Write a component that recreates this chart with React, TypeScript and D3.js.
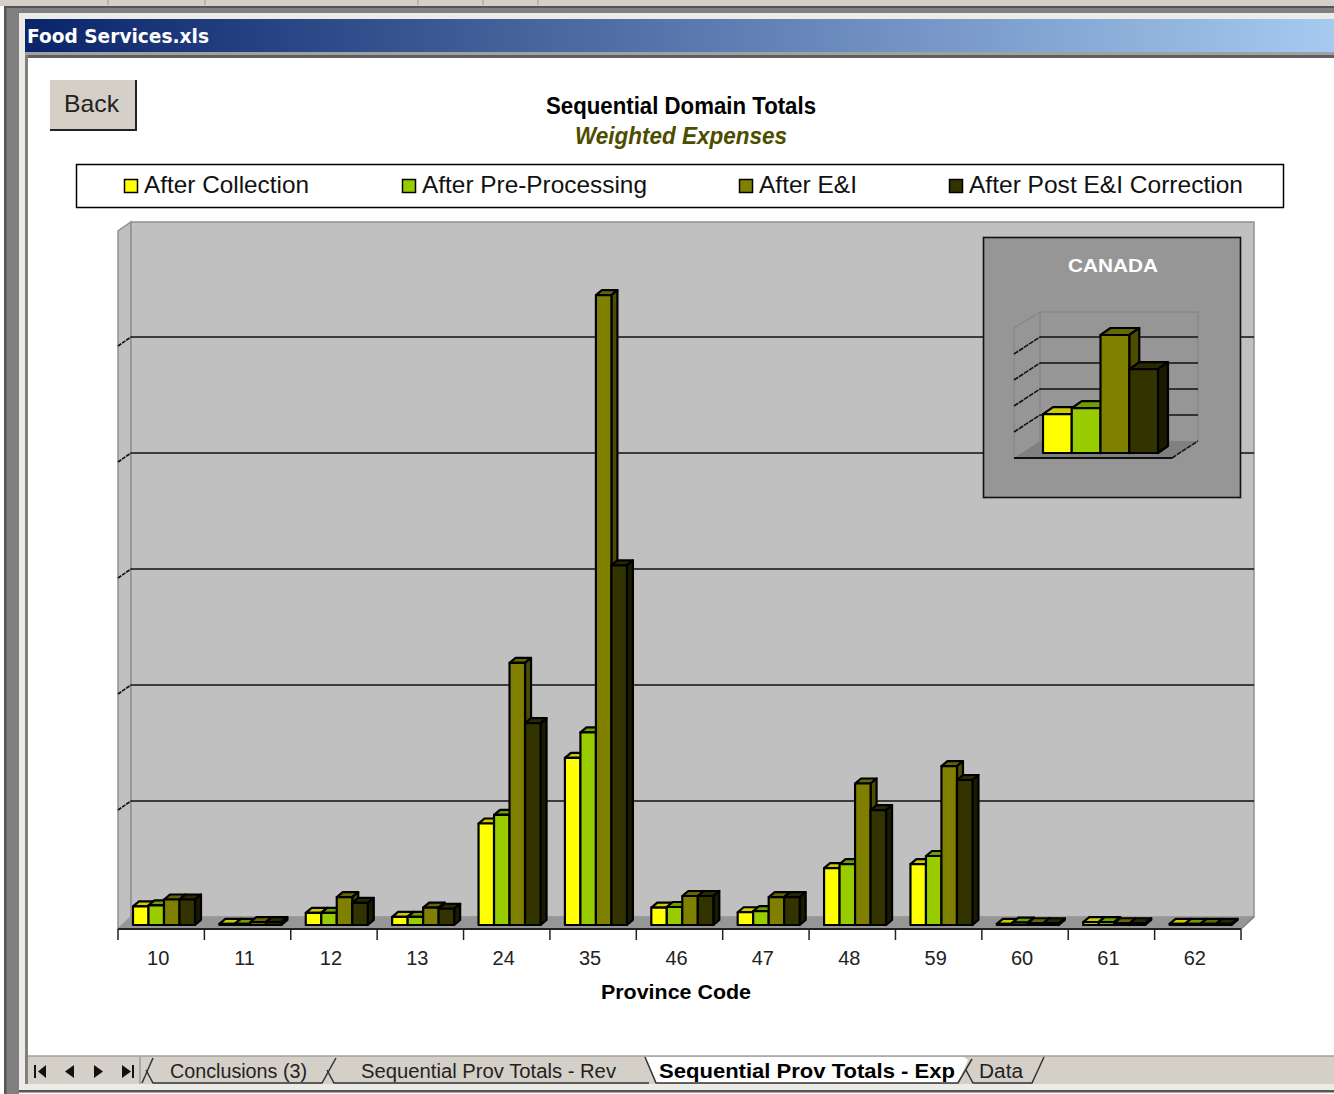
import React from 'react';
import * as d3 from 'd3';

const provinces = ['10','11','12','13','24','35','46','47','48','59','60','61','62'];
const seriesNames = ['After Collection','After Pre-Processing','After E&I','After Post E&I Correction'];
const frontColors = ['#FFFF00','#99CC00','#808000','#333300'];
const topColors = ['#CCCC00','#6E9E00','#666600','#292900'];
const sideColors = ['#808000','#4D6600','#4D4D00','#1A1A00'];
const afterCollection = [0.16,0.01,0.105,0.07,0.875,1.44,0.15,0.11,0.49,0.525,0.01,0.025,0.01];
const afterPreProcessing = [0.17,0.01,0.105,0.07,0.95,1.66,0.155,0.12,0.525,0.595,0.02,0.025,0.01];
const afterEI = [0.22,0.025,0.24,0.15,2.26,5.43,0.25,0.24,1.22,1.37,0.015,0.015,0.01];
const afterPostEI = [0.22,0.025,0.19,0.14,1.74,3.1,0.25,0.24,0.99,1.25,0.015,0.015,0.01];
const seriesValues = [afterCollection, afterPreProcessing, afterEI, afterPostEI];
const canadaValues = [0.66,0.76,2.0,1.42];
const gridTicks = [1,2,3,4,5];
const insetTicks = [1,2,3,4];
const tabs = ['Conclusions (3)','Sequential Prov Totals - Rev','Sequential Prov Totals - Exp','Data'];

const UI = '"Liberation Sans", Arial, sans-serif';
const TAHOMA = '"DejaVu Sans", Verdana, sans-serif';

function Bar3D({x,w,y,base,dx,dy,i,sw}:{x:number;w:number;y:number;base:number;dx:number;dy:number;i:number;sw:number}) {
  return <g stroke="#000" strokeWidth={sw} strokeLinejoin="round">
    <polygon fill={topColors[i]} points={`${x},${y} ${x+dx},${y+dy} ${x+w+dx},${y+dy} ${x+w},${y}`} />
    <polygon fill={sideColors[i]} points={`${x+w},${y} ${x+w+dx},${y+dy} ${x+w+dx},${base+dy} ${x+w},${base}`} />
    <rect fill={frontColors[i]} x={x} y={y} width={w} height={base-y} />
  </g>;
}

export default function App() {
  const xGroup = d3.scaleBand<string>().domain(provinces).range([118,1241]);
  const xSeries = d3.scaleBand<number>().domain([0,1,2,3]).range([15,77]);
  const yBar = d3.scaleLinear().domain([0,6]).range([925,229]);
  const yWall = d3.scaleLinear().domain([0,6]).range([917,221]);
  const wallL = 131, wallR = 1254, floorF = 929;

  const xIn = d3.scaleBand<number>().domain([0,1,2,3]).range([1043,1158]);
  const yIn = d3.scaleLinear().domain([0,2]).range([453,335]);
  const yInWall = d3.scaleLinear().domain([0,5]).range([441,311]);

  const legendX = [124,402,739,949];
  const legendLen = [165,225,98,274];
  const headerTicks = [108,205,418,483,538];

  return (
    <svg width={1334} height={1094} style={{position:'absolute',left:0,top:0,background:'#fff'}} fontFamily={UI}>
      <defs>
        <linearGradient id="tb" x1="0" x2="1" y1="0" y2="0">
          <stop offset="0" stopColor="#0A246A" />
          <stop offset="1" stopColor="#A6CAF0" />
        </linearGradient>
      </defs>
      {/* window chrome */}
      <rect x={0} y={0} width={1334} height={6} fill="#D4D0C8" />
      {headerTicks.map(x=><line key={x} x1={x} x2={x} y1={0} y2={5} stroke="#9a9a9a" />)}
      <rect x={4} y={6} width={1330} height={2.5} fill="#555" />
      <rect x={4} y={8} width={15} height={1086} fill="#808080" />
      <rect x={4} y={6} width={2.5} height={1088} fill="#555" />
      <rect x={19} y={8} width={1315} height={5} fill="#808080" />
      <rect x={19} y={13} width={1315} height={6} fill="#EDEBE6" />
      <rect x={19} y={13} width={6} height={1077} fill="#EDEBE6" />
      <rect x={25} y={19} width={1309} height={33} fill="url(#tb)" />
      <text x={27} y={43} fill="#fff" fontFamily={TAHOMA} fontWeight="bold" fontSize={20} textLength={182} lengthAdjust="spacingAndGlyphs">Food Services.xls</text>
      <rect x={25} y={52} width={1309} height={3} fill="#A0A0A0" />
      <rect x={25} y={55} width={1309} height={3} fill="#606060" />
      <rect x={25} y={55} width={3} height={1029} fill="#808080" />

      {/* back button */}
      <rect x={50} y={80} width={86} height={50} fill="#D4D0C8" />
      <path d="M136,80 V130 H50" fill="none" stroke="#222" strokeWidth={2} />
      <text x={64} y={112} fontSize={24} fill="#222" textLength={55} lengthAdjust="spacingAndGlyphs">Back</text>

      {/* titles */}
      <text x={681} y={114} textAnchor="middle" fontWeight="bold" fontSize={23} fill="#000" textLength={270} lengthAdjust="spacingAndGlyphs">Sequential Domain Totals</text>
      <text x={681} y={144} textAnchor="middle" fontWeight="bold" fontStyle="italic" fontSize={23} fill="#4D4D00" textLength={212} lengthAdjust="spacingAndGlyphs">Weighted Expenses</text>

      {/* legend */}
      <rect x={76.5} y={164.5} width={1207} height={43} fill="#fff" stroke="#000" strokeWidth={1.5} />
      {seriesNames.map((n,i)=>(
        <g key={n}>
          <rect x={legendX[i]+0.5} y={179.5} width={13} height={13} fill={frontColors[i]} stroke="#000" strokeWidth={1.5} />
          <text x={legendX[i]+20} y={193} fontSize={24} fill="#111" textLength={legendLen[i]} lengthAdjust="spacingAndGlyphs">{n}</text>
        </g>
      ))}

      {/* 3D walls and floor */}
      <polygon points={`118,${floorF} ${wallL},${yWall(0)} ${wallL},222 118,231`} fill="#C0C0C0" stroke="#909090" strokeWidth={1.5} />
      <rect x={wallL} y={222} width={wallR-wallL} height={yWall(0)-222} fill="#C0C0C0" stroke="#909090" strokeWidth={1.5} />
      <polygon points={`118,${floorF} ${wallL},${yWall(0)} ${wallR},${yWall(0)} 1241,${floorF}`} fill="#969696" />
      {gridTicks.map(t=>(
        <g key={t} stroke="#111" strokeWidth={1.7}>
          <line x1={wallL} x2={wallR} y1={yWall(t)} y2={yWall(t)} />
          <line x1={118} x2={wallL} y1={yWall(t)+9} y2={yWall(t)} strokeDasharray="4 1" />
        </g>
      ))}
      <line x1={1241} y1={floorF} x2={wallR} y2={yWall(0)} stroke="#808080" strokeWidth={1.5} />

      {/* main bars */}
      {provinces.map((p,g)=>(
        <g key={p}>
          {seriesValues.map((vals,s)=>(
            <Bar3D key={s} i={s} x={xGroup(p)!+xSeries(s)!} w={xSeries.bandwidth()} y={yBar(vals[g])} base={yBar(0)} dx={6} dy={-5} sw={2.2} />
          ))}
        </g>
      ))}

      {/* x axis */}
      <line x1={118} x2={1241} y1={floorF} y2={floorF} stroke="#222" strokeWidth={2} />
      {[...provinces.map(p=>xGroup(p)!),1241].map((x,i)=>(
        <line key={i} x1={x} x2={x} y1={floorF} y2={940} stroke="#222" strokeWidth={1.5} />
      ))}
      {provinces.map(p=>(
        <text key={p} x={xGroup(p)!+xGroup.bandwidth()/2-3} y={965} textAnchor="middle" fontSize={20} fill="#222">{p}</text>
      ))}
      <text x={676} y={999} textAnchor="middle" fontWeight="bold" fontSize={20} fill="#000" textLength={150} lengthAdjust="spacingAndGlyphs">Province Code</text>

      {/* inset */}
      <rect x={983.5} y={237.5} width={257} height={260} fill="#969696" stroke="#111" strokeWidth={1.6} />
      <text x={1113} y={272} textAnchor="middle" fontWeight="bold" fontSize={18} fill="#fff" textLength={90} lengthAdjust="spacingAndGlyphs">CANADA</text>
      <polygon points="1014,458 1040,441 1198,441 1172,458" fill="#808080" />
      <path d="M1014,458 V328 L1040,312 H1198 V441" fill="none" stroke="#808080" strokeWidth={1} />
      <line x1={1040} x2={1040} y1={312} y2={441} stroke="#808080" />
      {insetTicks.map(t=>(
        <g key={t} stroke="#111" strokeWidth={1.6}>
          <line x1={1040} x2={1198} y1={yInWall(t)} y2={yInWall(t)} />
          <line x1={1014} x2={1040} y1={yInWall(t)+17} y2={yInWall(t)} strokeDasharray="5 1" />
        </g>
      ))}
      <line x1={1014} x2={1172} y1={458} y2={458} stroke="#111" strokeWidth={2} />
      <line x1={1172} x2={1198} y1={458} y2={441} stroke="#111" strokeWidth={1.5} strokeDasharray="5 1" />
      {canadaValues.map((v,i)=>(
        <Bar3D key={i} i={i} x={xIn(i)!} w={xIn.bandwidth()} y={yIn(v)} base={yIn(0)} dx={10} dy={-7} sw={2.2} />
      ))}

      {/* sheet tabs */}
      <rect x={28} y={1056} width={1306} height={28} fill="#D4D0C8" />
      <line x1={28} x2={1334} y1={1056} y2={1056} stroke="#A0A0A0" strokeWidth={1.5} />
      <rect x={19} y={1084} width={1315} height={6} fill="#EDEBE6" />
      <rect x={19} y={1090} width={1315} height={2.5} fill="#555" />
      <g fill="#111">
        <rect x={34} y={1065} width={2} height={13} />
        <polygon points="46,1065 38,1071.5 46,1078" />
        <polygon points="74,1065 65,1071.5 74,1078" />
        <polygon points="94,1065 103,1071.5 94,1078" />
        <polygon points="122,1065 131,1071.5 122,1078" />
        <rect x={132} y={1065} width={2} height={13} />
      </g>
      <line x1={140} x2={140} y1={1057} y2={1084} stroke="#808080" />
      <g fill="none" stroke="#333" strokeWidth={1.5}>
        <polyline points="142,1083 153,1058" />
        <polyline points="146,1070 153,1083 322,1083 336,1058" />
        <polyline points="327,1070 334,1083 640,1083 649,1083" />
      </g>
      <polygon points="645,1057 657,1083 958,1083 968,1060 964,1057" fill="#fff" />
      <polyline points="645,1057 656,1083 958,1083 972,1059" fill="none" stroke="#333" strokeWidth={1.5} />
      <polyline points="966,1070 973,1083 1032,1083 1044,1057" fill="none" stroke="#333" strokeWidth={1.5} />
      <text x={170} y={1078} fontSize={20} fill="#222" textLength={137} lengthAdjust="spacingAndGlyphs">{tabs[0]}</text>
      <text x={361} y={1078} fontSize={20} fill="#222" textLength={255} lengthAdjust="spacingAndGlyphs">{tabs[1]}</text>
      <text x={659} y={1078} fontSize={21} fontWeight="bold" fill="#000" textLength={296} lengthAdjust="spacingAndGlyphs">{tabs[2]}</text>
      <text x={979} y={1078} fontSize={20} fill="#222" textLength={44} lengthAdjust="spacingAndGlyphs">{tabs[3]}</text>
    </svg>
  );
}
